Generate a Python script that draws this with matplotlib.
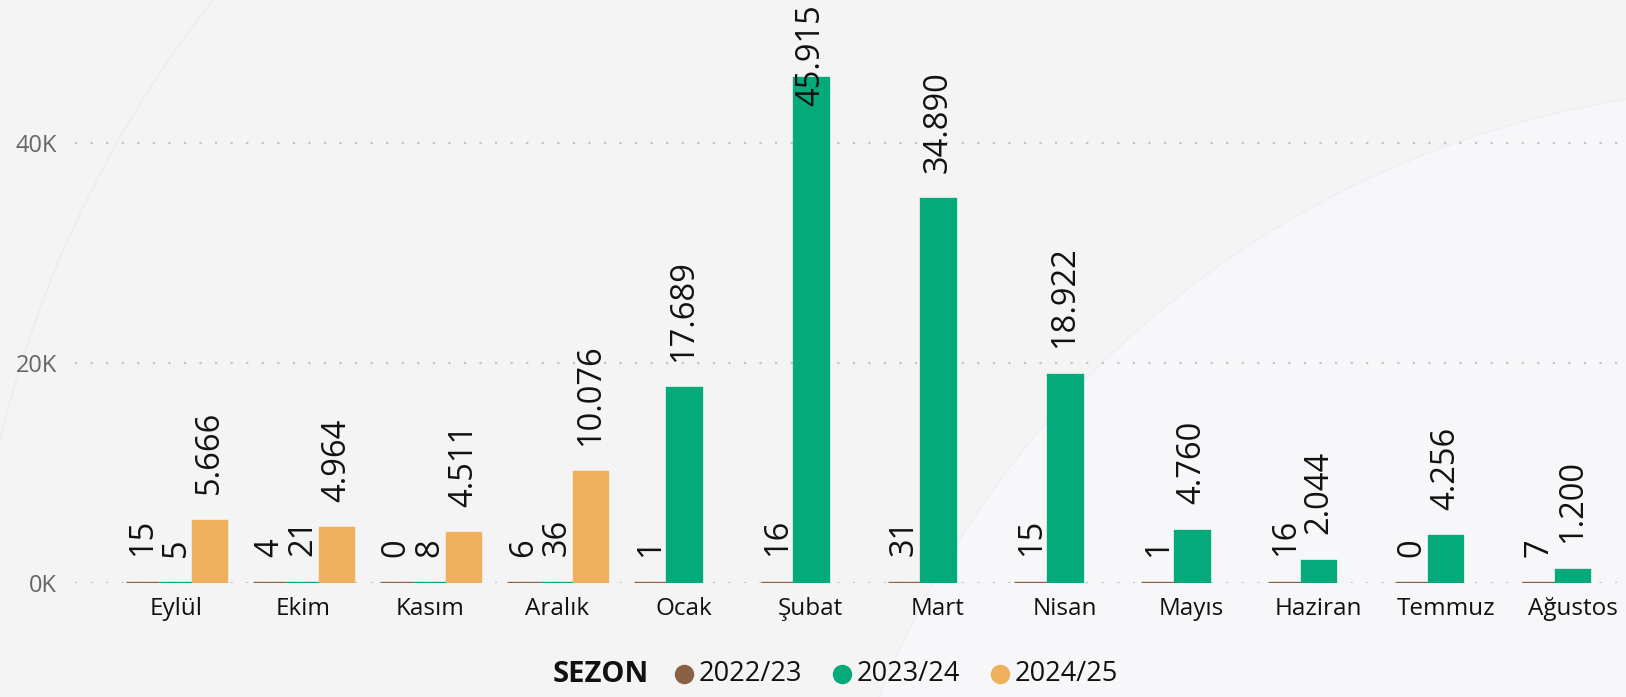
import matplotlib
matplotlib.use("Agg")
import matplotlib.pyplot as plt
from matplotlib.patches import Circle
from matplotlib.lines import Line2D
import numpy as np

months = ["Eylül", "Ekim", "Kasım", "Aralık", "Ocak", "Şubat", "Mart",
          "Nisan", "Mayıs", "Haziran", "Temmuz", "Ağustos"]
seasons = ["2022/23", "2023/24", "2024/25"]
s2022 = [15, 4, 0, 6, 1, 16, 31, 15, 1, 16, 0, 7]
s2023 = [5, 21, 8, 36, 17689, 45915, 34890, 18922, 4760, 2044, 4256, 1200]
s2024 = [5666, 4964, 4511, 10076, None, None, None, None, None, None, None, None]
colors = ["#8B6144", "#05AA7B", "#EEB05C"]

plt.rcParams['font.family'] = ['Open Sans', 'DejaVu Sans']

W, H = 1626, 697
fig = plt.figure(figsize=(W / 100, H / 100), dpi=100)
bg = "#f4f4f4"
fig.patch.set_facecolor(bg)

# faint decorative arcs
arc = Circle((17.8, -3.6), 9.7, transform=fig.dpi_scale_trans,
             facecolor="#f7f7f9", edgecolor="#eeeef4", lw=1.0, zorder=0)
fig.patches.append(arc)
arc2 = Circle((11.0, -0.03), 11.3, transform=fig.dpi_scale_trans,
              facecolor="none", edgecolor="#ececf2", lw=1.2, zorder=0)
fig.patches.append(arc2)

ax = fig.add_axes([75 / W, (H - 583) / H, (W - 75) / W, 583 / H])
ax.set_facecolor("none")
ax.set_zorder(2)

x = np.arange(len(months))
bw = 0.264
series = [s2022, s2023, s2024]
ymax = 53000
for k, (vals, col) in enumerate(zip(series, colors)):
    for i, v in enumerate(vals):
        if v is None:
            continue
        xi = x[i] + (k - 1) * bw
        ax.bar(xi, v, width=bw, color=col, edgecolor=col, linewidth=2.4, zorder=3)
        lab = f"{v:,}".replace(",", ".")
        if v > 40000:
            ax.text(xi, ymax - 350, lab, rotation=90, ha="center", va="top",
                    fontsize=23.5, color="#111111", zorder=4)
        else:
            ax.annotate(lab, (xi, v), xytext=(0, 19), textcoords="offset points",
                        rotation=90, ha="center", va="bottom", fontsize=23.5,
                        color="#111111", zorder=4)

ax.set_xlim(-0.795, 11.42)
ax.set_ylim(0, ymax)
ax.set_yticks([0, 20000, 40000])
ax.set_yticklabels(["0K", "20K", "40K"])
ax.set_xticks(x)
ax.set_xticklabels(months)
ax.tick_params(axis="x", length=0, pad=10, labelsize=17.5, labelcolor="#111111")
ax.tick_params(axis="y", length=0, pad=13, labelsize=17, labelcolor="#666666")
ax.grid(axis="y", color="#c4c4c4", linestyle=(0, (1, 6)), linewidth=1.6, zorder=1)
for sp in ax.spines.values():
    sp.set_visible(False)

# legend
ly = 1 - 674 / H
fig.text(553 / W, ly, "SEZON", fontsize=21, fontweight="bold", ha="left",
         va="center", color="#111111")
circ_x = [684, 842, 1000]
for cx, name, col in zip(circ_x, seasons, colors):
    fig.add_artist(Line2D([cx / W], [ly], marker="o", markersize=13,
                          color=col, transform=fig.transFigure, linestyle="none"))
    fig.text((cx + 15) / W, ly, name, fontsize=19.5, ha="left", va="center",
             color="#111111")

fig.savefig("out.png", dpi=100, facecolor=bg)
